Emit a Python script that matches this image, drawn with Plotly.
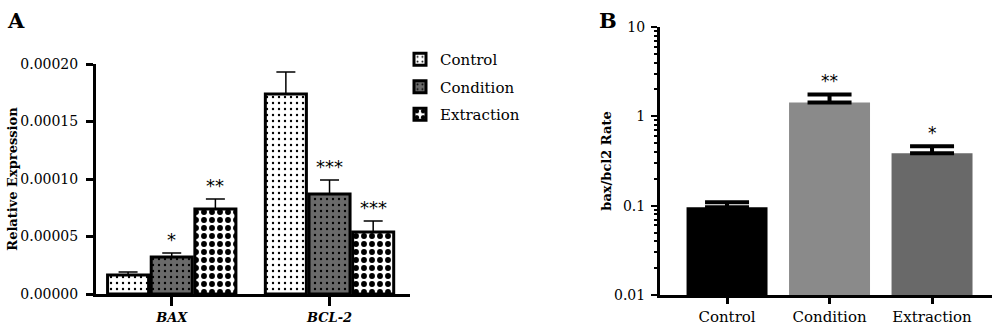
import math
import plotly.graph_objects as go

# ---------------- data ----------------
genes = ["BAX", "BCL-2"]
gene_labels = ["<b><i>BAX</i></b>", "<b><i>BCL-2</i></b>"]
groups = ["Control", "Condition", "Extraction"]

expr_control = [0.0000165, 0.000174]
expr_condition = [0.0000322, 0.0000870]
expr_extraction = [0.0000739, 0.0000539]
err_control = [0.0000026, 0.0000190]
err_condition = [0.0000035, 0.0000121]
err_extraction = [0.0000087, 0.0000096]
sig_control = ["", ""]
sig_condition = ["*", "***"]
sig_extraction = ["**", "***"]

ratio_values = [0.096, 1.43, 0.386]
ratio_err = [0.013, 0.33, 0.076]
ratio_sig = ["", "**", "*"]

# ---------------- styles ----------------
FONT = "DejaVu Serif"
W, H = 1000, 336
bargap_a = 0.17

styles = {
    "Control": dict(bg="white", fg="black", shape=".", size=6, solidity=0.12),
    "Condition": dict(bg="#6a6a6a", fg="black", shape=".", size=6, solidity=0.12),
    "Extraction": dict(bg="white", fg="black", shape=".", size=8, solidity=0.42),
}
ratio_colors = ["#000000", "#8a8a8a", "#696969"]

fig = go.Figure()

series = [
    ("Control", expr_control, err_control, sig_control),
    ("Condition", expr_condition, err_condition, sig_condition),
    ("Extraction", expr_extraction, err_extraction, sig_extraction),
]

annotations = []
slot = (1 - bargap_a) / 3
for k, (name, vals, errs, sigs) in enumerate(series):
    st = styles[name]
    fig.add_trace(go.Bar(
        name=name, x=genes, y=vals, legendgroup=name,
        marker=dict(color=st["bg"], line=dict(color="black", width=3),
                    pattern=dict(shape=st["shape"], fgcolor=st["fg"], bgcolor=st["bg"],
                                 size=st["size"], solidity=st["solidity"], fillmode="replace")),
        error_y=dict(type="data", array=errs, arrayminus=[0] * len(errs), symmetric=False,
                     color="black", thickness=1.5, width=9.5),
        xaxis="x", yaxis="y",
    ))
    for i, s in enumerate(sigs):
        if s:
            annotations.append(dict(
                x=i + (k - 1) * slot, y=vals[i] + errs[i], xref="x", yref="y",
                text=s, showarrow=False, yanchor="bottom",
                font=dict(family="DejaVu Sans", size=18, color="black"), yshift=1))

fig.add_trace(go.Bar(
    x=groups, y=ratio_values, width=0.79, showlegend=False,
    marker=dict(color=ratio_colors, line=dict(width=0)),
    error_y=dict(type="data", array=ratio_err, arrayminus=[0] * 3, symmetric=False,
                 color="black", thickness=4, width=22),
    xaxis="x2", yaxis="y2",
))
for i, s in enumerate(ratio_sig):
    if s:
        annotations.append(dict(
            x=i, y=math.log10(ratio_values[i] + ratio_err[i]), xref="x2", yref="y2",
            text=s, showarrow=False, yanchor="bottom",
            font=dict(family="DejaVu Sans", size=17, color="black"), yshift=1))

# panel letters
annotations.append(dict(x=5 / W, y=1 - 6 / H, xref="paper", yref="paper", text="<b>A</b>",
                        showarrow=False, xanchor="left", yanchor="top",
                        font=dict(family=FONT, size=21, color="black")))
annotations.append(dict(x=597 / W, y=1 - 6 / H, xref="paper", yref="paper", text="<b>B</b>",
                        showarrow=False, xanchor="left", yanchor="top",
                        font=dict(family=FONT, size=21, color="black")))

minor_vals = [m * 10 ** d for d in (-2, -1, 0) for m in range(2, 10)]

fig.update_layout(
    width=W, height=H,
    margin=dict(l=0, r=0, t=0, b=0),
    paper_bgcolor="white", plot_bgcolor="white",
    barmode="group", bargap=bargap_a, bargroupgap=0.06,
    font=dict(family=FONT, color="black"),
    showlegend=True,
    legend=dict(x=0.40, y=1 - 43 / H, xanchor="left", yanchor="top",
                font=dict(family=FONT, size=15, color="black"),
                tracegroupgap=5, bgcolor="rgba(0,0,0,0)"),
    annotations=annotations,
    xaxis=dict(domain=[96 / W, 410 / W], range=[-0.48, 1.51], type="category",
               tickmode="array", tickvals=genes, ticktext=gene_labels,
               showline=True, linecolor="black", linewidth=3,
               ticks="outside", ticklen=9, tickwidth=3, tickcolor="black",
               tickfont=dict(family=FONT, size=13), showgrid=False, zeroline=False,
               automargin=False, anchor="y", fixedrange=True),
    yaxis=dict(domain=[42 / H, 1 - 64 / H], range=[0, 0.0002],
               tickvals=[0, 0.00005, 0.0001, 0.00015, 0.0002],
               ticktext=["0.00000", "0.00005", "0.00010", "0.00015", "0.00020"],
               showline=True, linecolor="black", linewidth=3,
               ticks="outside", ticklen=7, tickwidth=3, tickcolor="black",
               ticklabelstandoff=5,
               tickfont=dict(family=FONT, size=14), showgrid=False, zeroline=False,
               title=dict(text="<b>Relative Expression</b>", font=dict(family=FONT, size=13), standoff=0),
               automargin=False, anchor="x"),
    xaxis2=dict(domain=[660 / W, 992 / W], range=[-0.654, 2.585], type="category",
                showline=True, linecolor="black", linewidth=2.5,
                ticks="outside", ticklen=6, tickwidth=3, tickcolor="black",
                tickfont=dict(family=FONT, size=15), showgrid=False, zeroline=False,
                automargin=False, anchor="y2"),
    yaxis2=dict(domain=[41 / H, 1 - 27 / H], type="log", range=[-2, 1],
                tickvals=[0.01, 0.1, 1, 10], ticktext=["0.01", "0.1", "1", "10"],
                showline=True, linecolor="black", linewidth=3,
                ticks="outside", ticklen=6, tickwidth=2, tickcolor="black",
                ticklabelstandoff=3,
                minor=dict(tickvals=minor_vals, ticks="outside", ticklen=3, tickwidth=2,
                           tickcolor="black", showgrid=False),
                tickfont=dict(family=FONT, size=14), showgrid=False, zeroline=False,
                title=dict(text="<b>bax/bcl2 Rate</b>", font=dict(family=FONT, size=13), standoff=0),
                automargin=False, anchor="x2"),
)

fig.write_html("out.html")
